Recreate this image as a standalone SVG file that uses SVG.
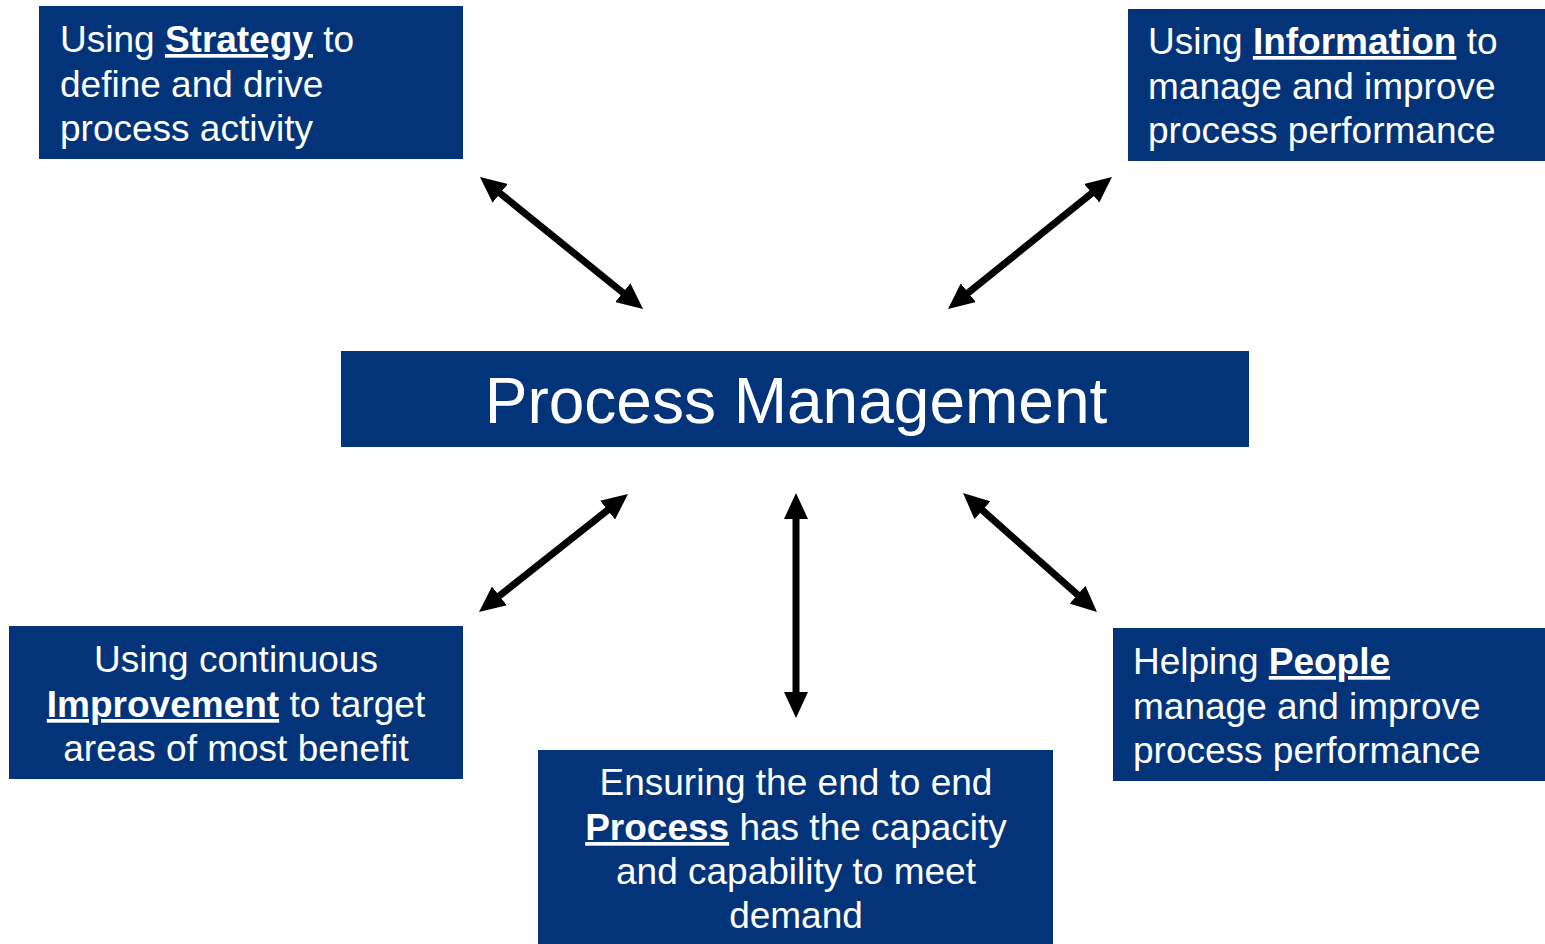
<svg xmlns="http://www.w3.org/2000/svg" width="1545" height="944" viewBox="0 0 1545 944">
  <style>
    .box { fill: #033479; }
    .txt { font-family: "Liberation Sans", Arial, sans-serif; font-size: 37px; fill: #ffffff; }
    .title { font-family: "Liberation Sans", Arial, sans-serif; font-size: 64px; fill: #ffffff; }
    .key { font-weight: bold; text-decoration: underline; }
    .mid { text-anchor: middle; }
    .link { stroke: #000000; stroke-width: 7; fill: none; marker-start: url(#head); marker-end: url(#head); }
  </style>
  <defs>
    <marker id="head" viewBox="0 0 26 24" markerUnits="userSpaceOnUse" markerWidth="26" markerHeight="24" refX="6" refY="12" orient="auto-start-reverse">
      <path d="M0,0 L26,12 L0,24 Z" fill="#000000"/>
    </marker>
  </defs>
  <rect width="1545" height="944" fill="#ffffff"/>

  <g id="connectors">
    <line class="link" x1="495.5" y1="189.6" x2="627.5" y2="296.4"/>
    <line class="link" x1="1096.4" y1="189.5" x2="963.6" y2="296.5"/>
    <line class="link" x1="612.3" y1="506.4" x2="494.7" y2="599.6"/>
    <line class="link" x1="796" y1="513" x2="796" y2="698"/>
    <line class="link" x1="978" y1="506.3" x2="1082" y2="598.7"/>
  </g>

  <g id="strategy">
    <rect class="box" x="39" y="6" width="424" height="153"/>
    <text class="txt" x="60" y="52">Using <tspan class="key">Strategy</tspan> to</text>
    <text class="txt" x="60" y="97">define and drive</text>
    <text class="txt" x="60" y="141">process activity</text>
  </g>

  <g id="information">
    <rect class="box" x="1128" y="9" width="417" height="152"/>
    <text class="txt" x="1148" y="54">Using <tspan class="key">Information</tspan> to</text>
    <text class="txt" x="1148" y="99">manage and improve</text>
    <text class="txt" x="1148" y="143">process performance</text>
  </g>

  <g id="process-management">
    <rect class="box" x="341" y="351" width="908" height="96"/>
    <text class="title mid" x="796" y="423">Process Management</text>
  </g>

  <g id="improvement">
    <rect class="box" x="9" y="626" width="454" height="153"/>
    <text class="txt mid" x="236" y="672">Using continuous</text>
    <text class="txt mid" x="236" y="717"><tspan class="key">Improvement</tspan> to target</text>
    <text class="txt mid" x="236" y="761">areas of most benefit</text>
  </g>

  <g id="process">
    <rect class="box" x="538" y="750" width="515" height="194"/>
    <text class="txt mid" x="796" y="795">Ensuring the end to end</text>
    <text class="txt mid" x="796" y="840"><tspan class="key">Process</tspan> has the capacity</text>
    <text class="txt mid" x="796" y="884">and capability to meet</text>
    <text class="txt mid" x="796" y="928">demand</text>
  </g>

  <g id="people">
    <rect class="box" x="1113" y="628" width="432" height="153"/>
    <text class="txt" x="1133" y="674">Helping <tspan class="key">People</tspan></text>
    <text class="txt" x="1133" y="719">manage and improve</text>
    <text class="txt" x="1133" y="763">process performance</text>
  </g>
</svg>
